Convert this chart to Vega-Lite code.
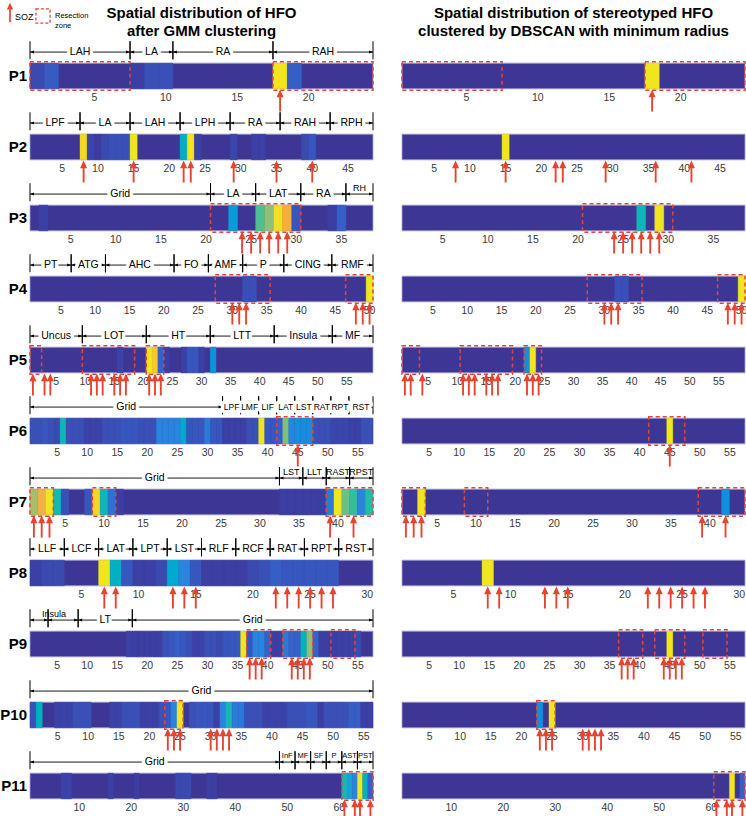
{
"$schema":"https://vega.github.io/schema/vega-lite/v6.json",
"padding":{"left":0,"top":2,"right":1,"bottom":0},
"background":"white",
"data":{"values":[
{"t":"s","p":"P1","m":"G","a":0.5,"b":24.5},{"t":"s","p":"P1","m":"D","a":0.5,"b":24.5},
{"t":"s","p":"P2","m":"G","a":0.5,"b":48.5},{"t":"s","p":"P2","m":"D","a":0.5,"b":48.5},
{"t":"s","p":"P3","m":"G","a":0.5,"b":38.5},{"t":"s","p":"P3","m":"D","a":0.5,"b":38.5},
{"t":"s","p":"P4","m":"G","a":0.5,"b":50.5},{"t":"s","p":"P4","m":"D","a":0.5,"b":50.5},
{"t":"s","p":"P5","m":"G","a":0.5,"b":59.5},{"t":"s","p":"P5","m":"D","a":0.5,"b":59.5},
{"t":"s","p":"P6","m":"G","a":0.5,"b":57.5},{"t":"s","p":"P6","m":"D","a":0.5,"b":57.5},
{"t":"s","p":"P7","m":"G","a":0.5,"b":44.5},{"t":"s","p":"P7","m":"D","a":0.5,"b":44.5},
{"t":"s","p":"P8","m":"G","a":0.5,"b":30.5},{"t":"s","p":"P8","m":"D","a":0.5,"b":30.5},
{"t":"s","p":"P9","m":"G","a":0.5,"b":57.5},{"t":"s","p":"P9","m":"D","a":0.5,"b":57.5},
{"t":"s","p":"P10","m":"G","a":0.5,"b":56.5},{"t":"s","p":"P10","m":"D","a":0.5,"b":56.5},
{"t":"s","p":"P11","m":"G","a":0.5,"b":66.5},{"t":"s","p":"P11","m":"D","a":0.5,"b":66.5},
{"t":"k","p":"P1","m":"G","k":[5,10,15,20]},{"t":"k","p":"P1","m":"D","k":[5,10,15,20]},
{"t":"k","p":"P2","m":"G","k":[5,10,15,20,25,30,35,40,45]},{"t":"k","p":"P2","m":"D","k":[5,10,15,20,25,30,35,40,45]},
{"t":"k","p":"P3","m":"G","k":[5,10,15,20,25,30,35]},{"t":"k","p":"P3","m":"D","k":[5,10,15,20,25,30,35]},
{"t":"k","p":"P4","m":"G","k":[5,10,15,20,25,30,35,40,45,50]},{"t":"k","p":"P4","m":"D","k":[5,10,15,20,25,30,35,40,45,50]},
{"t":"k","p":"P5","m":"G","k":[5,10,15,20,25,30,35,40,45,50,55]},{"t":"k","p":"P5","m":"D","k":[5,10,15,20,25,30,35,40,45,50,55]},
{"t":"k","p":"P6","m":"G","k":[5,10,15,20,25,30,35,40,45,50,55]},{"t":"k","p":"P6","m":"D","k":[5,10,15,20,25,30,35,40,45,50,55]},
{"t":"k","p":"P7","m":"G","k":[5,10,15,20,25,30,35,40]},{"t":"k","p":"P7","m":"D","k":[5,10,15,20,25,30,35,40]},
{"t":"k","p":"P8","m":"G","k":[5,10,15,20,25,30]},{"t":"k","p":"P8","m":"D","k":[5,10,15,20,25,30]},
{"t":"k","p":"P9","m":"G","k":[5,10,15,20,25,30,35,40,45,50,55]},{"t":"k","p":"P9","m":"D","k":[5,10,15,20,25,30,35,40,45,50,55]},
{"t":"k","p":"P10","m":"G","k":[5,10,15,20,25,30,35,40,45,50,55]},{"t":"k","p":"P10","m":"D","k":[5,10,15,20,25,30,35,40,45,50,55]},
{"t":"k","p":"P11","m":"G","k":[10,20,30,40,50,60]},{"t":"k","p":"P11","m":"D","k":[10,20,30,40,50,60]},

{"t":"c","p":"P1","m":"G","c":1,"v":0.08},{"t":"c","p":"P1","m":"G","c":2,"v":0.13},{"t":"c","p":"P1","m":"G","c":8,"v":0.04},{"t":"c","p":"P1","m":"G","c":9,"v":0.1},{"t":"c","p":"P1","m":"G","c":10,"v":0.1},{"t":"c","p":"P1","m":"G","c":18,"v":1},{"t":"c","p":"P1","m":"G","c":19,"v":0.14},
{"t":"c","p":"P1","m":"D","c":18,"v":1},
{"t":"c","p":"P2","m":"G","c":8,"v":0.93},{"t":"c","p":"P2","m":"G","c":9,"v":0.07},{"t":"c","p":"P2","m":"G","c":10,"v":0.03},{"t":"c","p":"P2","m":"G","c":11,"v":0.08},{"t":"c","p":"P2","m":"G","c":12,"v":0.1},{"t":"c","p":"P2","m":"G","c":13,"v":0.1},{"t":"c","p":"P2","m":"G","c":14,"v":0.1},{"t":"c","p":"P2","m":"G","c":15,"v":1},{"t":"c","p":"P2","m":"G","c":22,"v":0.33},{"t":"c","p":"P2","m":"G","c":23,"v":1},{"t":"c","p":"P2","m":"G","c":24,"v":0.05},{"t":"c","p":"P2","m":"G","c":29,"v":0.07},{"t":"c","p":"P2","m":"G","c":32,"v":0.05},{"t":"c","p":"P2","m":"G","c":33,"v":0.05},{"t":"c","p":"P2","m":"G","c":39,"v":0.08},{"t":"c","p":"P2","m":"G","c":40,"v":0.12},
{"t":"c","p":"P2","m":"D","c":15,"v":1},
{"t":"c","p":"P3","m":"G","c":2,"v":0.05},{"t":"c","p":"P3","m":"G","c":23,"v":0.28},{"t":"c","p":"P3","m":"G","c":26,"v":0.45},{"t":"c","p":"P3","m":"G","c":27,"v":0.52},{"t":"c","p":"P3","m":"G","c":28,"v":0.97},{"t":"c","p":"P3","m":"G","c":29,"v":0.8},{"t":"c","p":"P3","m":"G","c":30,"v":0.12},{"t":"c","p":"P3","m":"G","c":34,"v":0.04},{"t":"c","p":"P3","m":"G","c":35,"v":0.14},
{"t":"c","p":"P3","m":"D","c":27,"v":0.36},{"t":"c","p":"P3","m":"D","c":29,"v":1},
{"t":"c","p":"P4","m":"G","c":32,"v":0.1},{"t":"c","p":"P4","m":"G","c":33,"v":0.1},{"t":"c","p":"P4","m":"G","c":50,"v":1},
{"t":"c","p":"P4","m":"D","c":32,"v":0.1},{"t":"c","p":"P4","m":"D","c":33,"v":0.1},{"t":"c","p":"P4","m":"D","c":50,"v":1},
{"t":"c","p":"P5","m":"G","c":16,"v":0.06},{"t":"c","p":"P5","m":"G","c":21,"v":1},{"t":"c","p":"P5","m":"G","c":22,"v":0.88},{"t":"c","p":"P5","m":"G","c":23,"v":0.15},{"t":"c","p":"P5","m":"G","c":24,"v":0.04},{"t":"c","p":"P5","m":"G","c":27,"v":0.05},{"t":"c","p":"P5","m":"G","c":28,"v":0.12},{"t":"c","p":"P5","m":"G","c":29,"v":0.12},{"t":"c","p":"P5","m":"G","c":30,"v":0.05},{"t":"c","p":"P5","m":"G","c":32,"v":0.27},
{"t":"c","p":"P5","m":"D","c":22,"v":0.25},{"t":"c","p":"P5","m":"D","c":23,"v":1},
{"t":"c","p":"P6","m":"G","c":1,"v":0.1},{"t":"c","p":"P6","m":"G","c":2,"v":0.1},{"t":"c","p":"P6","m":"G","c":3,"v":0.12},{"t":"c","p":"P6","m":"G","c":4,"v":0.1},{"t":"c","p":"P6","m":"G","c":5,"v":0.08},{"t":"c","p":"P6","m":"G","c":6,"v":0.36},{"t":"c","p":"P6","m":"G","c":7,"v":0.1},{"t":"c","p":"P6","m":"G","c":8,"v":0.1},{"t":"c","p":"P6","m":"G","c":9,"v":0.1},{"t":"c","p":"P6","m":"G","c":10,"v":0.06},{"t":"c","p":"P6","m":"G","c":11,"v":0.06},{"t":"c","p":"P6","m":"G","c":12,"v":0.06},{"t":"c","p":"P6","m":"G","c":13,"v":0.1},{"t":"c","p":"P6","m":"G","c":14,"v":0.1},{"t":"c","p":"P6","m":"G","c":15,"v":0.1},{"t":"c","p":"P6","m":"G","c":16,"v":0.12},{"t":"c","p":"P6","m":"G","c":17,"v":0.12},{"t":"c","p":"P6","m":"G","c":18,"v":0.12},{"t":"c","p":"P6","m":"G","c":19,"v":0.1},{"t":"c","p":"P6","m":"G","c":20,"v":0.1},{"t":"c","p":"P6","m":"G","c":21,"v":0.1},{"t":"c","p":"P6","m":"G","c":22,"v":0.22},{"t":"c","p":"P6","m":"G","c":23,"v":0.22},{"t":"c","p":"P6","m":"G","c":24,"v":0.22},{"t":"c","p":"P6","m":"G","c":25,"v":0.22},{"t":"c","p":"P6","m":"G","c":26,"v":0.32},{"t":"c","p":"P6","m":"G","c":27,"v":0.12},{"t":"c","p":"P6","m":"G","c":28,"v":0.12},{"t":"c","p":"P6","m":"G","c":29,"v":0.12},{"t":"c","p":"P6","m":"G","c":30,"v":0.2},{"t":"c","p":"P6","m":"G","c":31,"v":0.12},{"t":"c","p":"P6","m":"G","c":32,"v":0.12},{"t":"c","p":"P6","m":"G","c":33,"v":0.05},{"t":"c","p":"P6","m":"G","c":34,"v":0.05},{"t":"c","p":"P6","m":"G","c":35,"v":0.05},{"t":"c","p":"P6","m":"G","c":36,"v":0.05},{"t":"c","p":"P6","m":"G","c":37,"v":0.1},{"t":"c","p":"P6","m":"G","c":38,"v":0.1},{"t":"c","p":"P6","m":"G","c":39,"v":1},{"t":"c","p":"P6","m":"G","c":40,"v":0.12},{"t":"c","p":"P6","m":"G","c":41,"v":0.12},{"t":"c","p":"P6","m":"G","c":42,"v":0.14},{"t":"c","p":"P6","m":"G","c":43,"v":0.5},{"t":"c","p":"P6","m":"G","c":44,"v":0.22},{"t":"c","p":"P6","m":"G","c":45,"v":0.24},{"t":"c","p":"P6","m":"G","c":46,"v":0.24},{"t":"c","p":"P6","m":"G","c":47,"v":0.24},{"t":"c","p":"P6","m":"G","c":48,"v":0.1},{"t":"c","p":"P6","m":"G","c":49,"v":0.1},{"t":"c","p":"P6","m":"G","c":50,"v":0.1},{"t":"c","p":"P6","m":"G","c":51,"v":0.07},{"t":"c","p":"P6","m":"G","c":52,"v":0.07},{"t":"c","p":"P6","m":"G","c":53,"v":0.07},{"t":"c","p":"P6","m":"G","c":54,"v":0.05},{"t":"c","p":"P6","m":"G","c":55,"v":0.05},{"t":"c","p":"P6","m":"G","c":56,"v":0.1},{"t":"c","p":"P6","m":"G","c":57,"v":0.1},
{"t":"c","p":"P6","m":"D","c":45,"v":1},
{"t":"c","p":"P7","m":"G","c":1,"v":0.58},{"t":"c","p":"P7","m":"G","c":2,"v":0.78},{"t":"c","p":"P7","m":"G","c":3,"v":1},{"t":"c","p":"P7","m":"G","c":4,"v":0.38},{"t":"c","p":"P7","m":"G","c":5,"v":0.1},{"t":"c","p":"P7","m":"G","c":8,"v":0.12},{"t":"c","p":"P7","m":"G","c":9,"v":0.93},{"t":"c","p":"P7","m":"G","c":10,"v":0.36},{"t":"c","p":"P7","m":"G","c":11,"v":0.18},{"t":"c","p":"P7","m":"G","c":12,"v":0.04},{"t":"c","p":"P7","m":"G","c":33,"v":0.04},{"t":"c","p":"P7","m":"G","c":34,"v":0.04},{"t":"c","p":"P7","m":"G","c":35,"v":0.04},{"t":"c","p":"P7","m":"G","c":36,"v":0.04},{"t":"c","p":"P7","m":"G","c":37,"v":0.04},{"t":"c","p":"P7","m":"G","c":38,"v":0.04},{"t":"c","p":"P7","m":"G","c":39,"v":0.2},{"t":"c","p":"P7","m":"G","c":40,"v":1},{"t":"c","p":"P7","m":"G","c":41,"v":0.48},{"t":"c","p":"P7","m":"G","c":42,"v":0.42},{"t":"c","p":"P7","m":"G","c":43,"v":0.22},{"t":"c","p":"P7","m":"G","c":44,"v":0.4},
{"t":"c","p":"P7","m":"D","c":3,"v":1},{"t":"c","p":"P7","m":"D","c":42,"v":0.25},
{"t":"c","p":"P8","m":"G","c":1,"v":0.05},{"t":"c","p":"P8","m":"G","c":2,"v":0.08},{"t":"c","p":"P8","m":"G","c":3,"v":0.08},{"t":"c","p":"P8","m":"G","c":7,"v":1},{"t":"c","p":"P8","m":"G","c":8,"v":0.35},{"t":"c","p":"P8","m":"G","c":9,"v":0.12},{"t":"c","p":"P8","m":"G","c":10,"v":0.05},{"t":"c","p":"P8","m":"G","c":11,"v":0.05},{"t":"c","p":"P8","m":"G","c":12,"v":0.08},{"t":"c","p":"P8","m":"G","c":13,"v":0.32},{"t":"c","p":"P8","m":"G","c":14,"v":0.22},{"t":"c","p":"P8","m":"G","c":15,"v":0.12},{"t":"c","p":"P8","m":"G","c":16,"v":0.04},{"t":"c","p":"P8","m":"G","c":17,"v":0.04},{"t":"c","p":"P8","m":"G","c":18,"v":0.04},{"t":"c","p":"P8","m":"G","c":19,"v":0.04},{"t":"c","p":"P8","m":"G","c":20,"v":0.08},{"t":"c","p":"P8","m":"G","c":21,"v":0.1},{"t":"c","p":"P8","m":"G","c":22,"v":0.14},{"t":"c","p":"P8","m":"G","c":23,"v":0.12},{"t":"c","p":"P8","m":"G","c":24,"v":0.12},{"t":"c","p":"P8","m":"G","c":25,"v":0.12},{"t":"c","p":"P8","m":"G","c":26,"v":0.12},{"t":"c","p":"P8","m":"G","c":27,"v":0.12},
{"t":"c","p":"P8","m":"D","c":8,"v":1},
{"t":"c","p":"P9","m":"G","c":17,"v":0.06},{"t":"c","p":"P9","m":"G","c":18,"v":0.04},{"t":"c","p":"P9","m":"G","c":19,"v":0.04},{"t":"c","p":"P9","m":"G","c":20,"v":0.04},{"t":"c","p":"P9","m":"G","c":21,"v":0.04},{"t":"c","p":"P9","m":"G","c":22,"v":0.04},{"t":"c","p":"P9","m":"G","c":23,"v":0.1},{"t":"c","p":"P9","m":"G","c":24,"v":0.12},{"t":"c","p":"P9","m":"G","c":25,"v":0.14},{"t":"c","p":"P9","m":"G","c":26,"v":0.12},{"t":"c","p":"P9","m":"G","c":27,"v":0.1},{"t":"c","p":"P9","m":"G","c":28,"v":0.06},{"t":"c","p":"P9","m":"G","c":29,"v":0.06},{"t":"c","p":"P9","m":"G","c":30,"v":0.1},{"t":"c","p":"P9","m":"G","c":31,"v":0.1},{"t":"c","p":"P9","m":"G","c":32,"v":0.08},{"t":"c","p":"P9","m":"G","c":33,"v":0.12},{"t":"c","p":"P9","m":"G","c":34,"v":0.12},{"t":"c","p":"P9","m":"G","c":35,"v":0.12},{"t":"c","p":"P9","m":"G","c":36,"v":1},{"t":"c","p":"P9","m":"G","c":37,"v":0.12},{"t":"c","p":"P9","m":"G","c":38,"v":0.22},{"t":"c","p":"P9","m":"G","c":39,"v":0.22},{"t":"c","p":"P9","m":"G","c":40,"v":0.15},{"t":"c","p":"P9","m":"G","c":41,"v":0.04},{"t":"c","p":"P9","m":"G","c":42,"v":0.04},{"t":"c","p":"P9","m":"G","c":43,"v":0.2},{"t":"c","p":"P9","m":"G","c":44,"v":0.15},{"t":"c","p":"P9","m":"G","c":45,"v":0.15},{"t":"c","p":"P9","m":"G","c":46,"v":0.35},{"t":"c","p":"P9","m":"G","c":47,"v":0.52},{"t":"c","p":"P9","m":"G","c":48,"v":0.15},{"t":"c","p":"P9","m":"G","c":49,"v":0.04},{"t":"c","p":"P9","m":"G","c":50,"v":0.04},{"t":"c","p":"P9","m":"G","c":51,"v":0.04},{"t":"c","p":"P9","m":"G","c":52,"v":0.05},{"t":"c","p":"P9","m":"G","c":53,"v":0.05},{"t":"c","p":"P9","m":"G","c":54,"v":0.05},{"t":"c","p":"P9","m":"G","c":55,"v":0.08},
{"t":"c","p":"P9","m":"D","c":45,"v":1},
{"t":"c","p":"P10","m":"G","c":1,"v":0.1},{"t":"c","p":"P10","m":"G","c":2,"v":0.35},{"t":"c","p":"P10","m":"G","c":5,"v":0.06},{"t":"c","p":"P10","m":"G","c":6,"v":0.06},{"t":"c","p":"P10","m":"G","c":7,"v":0.06},{"t":"c","p":"P10","m":"G","c":8,"v":0.1},{"t":"c","p":"P10","m":"G","c":9,"v":0.1},{"t":"c","p":"P10","m":"G","c":10,"v":0.1},{"t":"c","p":"P10","m":"G","c":14,"v":0.06},{"t":"c","p":"P10","m":"G","c":15,"v":0.06},{"t":"c","p":"P10","m":"G","c":16,"v":0.1},{"t":"c","p":"P10","m":"G","c":17,"v":0.1},{"t":"c","p":"P10","m":"G","c":18,"v":0.1},{"t":"c","p":"P10","m":"G","c":19,"v":0.05},{"t":"c","p":"P10","m":"G","c":20,"v":0.05},{"t":"c","p":"P10","m":"G","c":21,"v":0.05},{"t":"c","p":"P10","m":"G","c":22,"v":0.1},{"t":"c","p":"P10","m":"G","c":23,"v":0.12},{"t":"c","p":"P10","m":"G","c":24,"v":0.22},{"t":"c","p":"P10","m":"G","c":25,"v":1},{"t":"c","p":"P10","m":"G","c":27,"v":0.1},{"t":"c","p":"P10","m":"G","c":28,"v":0.12},{"t":"c","p":"P10","m":"G","c":29,"v":0.12},{"t":"c","p":"P10","m":"G","c":30,"v":0.12},{"t":"c","p":"P10","m":"G","c":31,"v":0.05},{"t":"c","p":"P10","m":"G","c":32,"v":0.22},{"t":"c","p":"P10","m":"G","c":33,"v":0.38},{"t":"c","p":"P10","m":"G","c":34,"v":0.2},{"t":"c","p":"P10","m":"G","c":35,"v":0.2},{"t":"c","p":"P10","m":"G","c":36,"v":0.1},{"t":"c","p":"P10","m":"G","c":37,"v":0.1},{"t":"c","p":"P10","m":"G","c":38,"v":0.1},{"t":"c","p":"P10","m":"G","c":39,"v":0.06},{"t":"c","p":"P10","m":"G","c":40,"v":0.06},{"t":"c","p":"P10","m":"G","c":41,"v":0.06},{"t":"c","p":"P10","m":"G","c":42,"v":0.06},{"t":"c","p":"P10","m":"G","c":43,"v":0.1},{"t":"c","p":"P10","m":"G","c":44,"v":0.1},{"t":"c","p":"P10","m":"G","c":45,"v":0.1},{"t":"c","p":"P10","m":"G","c":46,"v":0.12},{"t":"c","p":"P10","m":"G","c":47,"v":0.12},{"t":"c","p":"P10","m":"G","c":48,"v":0.04},{"t":"c","p":"P10","m":"G","c":49,"v":0.1},{"t":"c","p":"P10","m":"G","c":50,"v":0.1},{"t":"c","p":"P10","m":"G","c":51,"v":0.1},{"t":"c","p":"P10","m":"G","c":52,"v":0.1},{"t":"c","p":"P10","m":"G","c":53,"v":0.14},{"t":"c","p":"P10","m":"G","c":54,"v":0.14},{"t":"c","p":"P10","m":"G","c":55,"v":0.05},{"t":"c","p":"P10","m":"G","c":56,"v":0.05},
{"t":"c","p":"P10","m":"D","c":23,"v":0.25},{"t":"c","p":"P10","m":"D","c":25,"v":1},
{"t":"c","p":"P11","m":"G","c":7,"v":0.06},{"t":"c","p":"P11","m":"G","c":8,"v":0.06},{"t":"c","p":"P11","m":"G","c":16,"v":0.05},{"t":"c","p":"P11","m":"G","c":21,"v":0.04},{"t":"c","p":"P11","m":"G","c":29,"v":0.08},{"t":"c","p":"P11","m":"G","c":30,"v":0.08},{"t":"c","p":"P11","m":"G","c":31,"v":0.08},{"t":"c","p":"P11","m":"G","c":35,"v":0.04},{"t":"c","p":"P11","m":"G","c":36,"v":0.04},{"t":"c","p":"P11","m":"G","c":61,"v":0.38},{"t":"c","p":"P11","m":"G","c":62,"v":0.3},{"t":"c","p":"P11","m":"G","c":63,"v":0.22},{"t":"c","p":"P11","m":"G","c":64,"v":1},{"t":"c","p":"P11","m":"G","c":65,"v":0.35},{"t":"c","p":"P11","m":"G","c":66,"v":0.15},
{"t":"c","p":"P11","m":"D","c":64,"v":1},{"t":"c","p":"P11","m":"D","c":66,"v":0.15},

{"t":"b","p":"P1","m":"G","a":0.5,"b":7.5},{"t":"b","p":"P1","m":"G","a":17.5,"b":24.5},{"t":"b","p":"P1","m":"D","a":0.5,"b":7.5},{"t":"b","p":"P1","m":"D","a":17.5,"b":24.5},
{"t":"b","p":"P3","m":"G","a":20.5,"b":30.5},{"t":"b","p":"P3","m":"D","a":20.5,"b":30.5},
{"t":"b","p":"P4","m":"G","a":27.5,"b":35.5},{"t":"b","p":"P4","m":"G","a":46.5,"b":50.5},{"t":"b","p":"P4","m":"D","a":27.5,"b":35.5},{"t":"b","p":"P4","m":"D","a":46.5,"b":50.5},
{"t":"b","p":"P5","m":"G","a":0.5,"b":2.5},{"t":"b","p":"P5","m":"G","a":9.5,"b":18.5},{"t":"b","p":"P5","m":"G","a":20.5,"b":23.5},{"t":"b","p":"P5","m":"D","a":0.5,"b":3.5},{"t":"b","p":"P5","m":"D","a":10.5,"b":19.5},{"t":"b","p":"P5","m":"D","a":21.5,"b":24.5},
{"t":"b","p":"P6","m":"G","a":41.5,"b":47.5},{"t":"b","p":"P6","m":"D","a":41.5,"b":47.5},
{"t":"b","p":"P7","m":"G","a":0.5,"b":3.5},{"t":"b","p":"P7","m":"G","a":8.5,"b":11.5},{"t":"b","p":"P7","m":"G","a":38.5,"b":44.5},{"t":"b","p":"P7","m":"D","a":0.5,"b":3.5},{"t":"b","p":"P7","m":"D","a":8.5,"b":11.5},{"t":"b","p":"P7","m":"D","a":38.5,"b":44.5},
{"t":"b","p":"P9","m":"G","a":36.5,"b":40.5},{"t":"b","p":"P9","m":"G","a":42.5,"b":47.5},{"t":"b","p":"P9","m":"G","a":50.5,"b":54.5},{"t":"b","p":"P9","m":"D","a":36.5,"b":40.5},{"t":"b","p":"P9","m":"D","a":42.5,"b":47.5},{"t":"b","p":"P9","m":"D","a":50.5,"b":54.5},
{"t":"b","p":"P10","m":"G","a":22.5,"b":25.5},{"t":"b","p":"P10","m":"D","a":22.5,"b":25.5},
{"t":"b","p":"P11","m":"G","a":60.5,"b":66.5},{"t":"b","p":"P11","m":"D","a":60.5,"b":66.5},

{"t":"z","p":"P1","m":"G","c":18},{"t":"z","p":"P1","m":"D","c":18},
{"t":"z","p":"P2","m":"G","c":8},{"t":"z","p":"P2","m":"G","c":15},{"t":"z","p":"P2","m":"G","c":22},{"t":"z","p":"P2","m":"G","c":23},{"t":"z","p":"P2","m":"G","c":29},{"t":"z","p":"P2","m":"G","c":35},{"t":"z","p":"P2","m":"G","c":40},
{"t":"z","p":"P2","m":"D","c":8},{"t":"z","p":"P2","m":"D","c":15},{"t":"z","p":"P2","m":"D","c":22},{"t":"z","p":"P2","m":"D","c":23},{"t":"z","p":"P2","m":"D","c":29},{"t":"z","p":"P2","m":"D","c":36},{"t":"z","p":"P2","m":"D","c":41},
{"t":"z","p":"P3","m":"G","c":24},{"t":"z","p":"P3","m":"G","c":25},{"t":"z","p":"P3","m":"G","c":26},{"t":"z","p":"P3","m":"G","c":27},{"t":"z","p":"P3","m":"G","c":28},{"t":"z","p":"P3","m":"G","c":29},
{"t":"z","p":"P3","m":"D","c":24},{"t":"z","p":"P3","m":"D","c":25},{"t":"z","p":"P3","m":"D","c":26},{"t":"z","p":"P3","m":"D","c":27},{"t":"z","p":"P3","m":"D","c":28},{"t":"z","p":"P3","m":"D","c":29},
{"t":"z","p":"P4","m":"G","c":30},{"t":"z","p":"P4","m":"G","c":31},{"t":"z","p":"P4","m":"G","c":32},{"t":"z","p":"P4","m":"G","c":48},{"t":"z","p":"P4","m":"G","c":49},{"t":"z","p":"P4","m":"G","c":50},
{"t":"z","p":"P4","m":"D","c":30},{"t":"z","p":"P4","m":"D","c":31},{"t":"z","p":"P4","m":"D","c":32},{"t":"z","p":"P4","m":"D","c":48},{"t":"z","p":"P4","m":"D","c":49},{"t":"z","p":"P4","m":"D","c":50},
{"t":"z","p":"P5","m":"G","c":1},{"t":"z","p":"P5","m":"G","c":3},{"t":"z","p":"P5","m":"G","c":4},{"t":"z","p":"P5","m":"G","c":11},{"t":"z","p":"P5","m":"G","c":12},{"t":"z","p":"P5","m":"G","c":13},{"t":"z","p":"P5","m":"G","c":15},{"t":"z","p":"P5","m":"G","c":16},{"t":"z","p":"P5","m":"G","c":17},{"t":"z","p":"P5","m":"G","c":21},{"t":"z","p":"P5","m":"G","c":22},{"t":"z","p":"P5","m":"G","c":23},
{"t":"z","p":"P5","m":"D","c":1},{"t":"z","p":"P5","m":"D","c":2},{"t":"z","p":"P5","m":"D","c":4},{"t":"z","p":"P5","m":"D","c":11},{"t":"z","p":"P5","m":"D","c":12},{"t":"z","p":"P5","m":"D","c":13},{"t":"z","p":"P5","m":"D","c":15},{"t":"z","p":"P5","m":"D","c":16},{"t":"z","p":"P5","m":"D","c":17},{"t":"z","p":"P5","m":"D","c":22},{"t":"z","p":"P5","m":"D","c":23},{"t":"z","p":"P5","m":"D","c":24},
{"t":"z","p":"P6","m":"G","c":45},{"t":"z","p":"P6","m":"D","c":45},
{"t":"z","p":"P7","m":"G","c":1},{"t":"z","p":"P7","m":"G","c":2},{"t":"z","p":"P7","m":"G","c":3},{"t":"z","p":"P7","m":"G","c":39},{"t":"z","p":"P7","m":"G","c":42},
{"t":"z","p":"P7","m":"D","c":1},{"t":"z","p":"P7","m":"D","c":2},{"t":"z","p":"P7","m":"D","c":3},{"t":"z","p":"P7","m":"D","c":39},{"t":"z","p":"P7","m":"D","c":42},
{"t":"z","p":"P8","m":"G","c":7},{"t":"z","p":"P8","m":"G","c":8},{"t":"z","p":"P8","m":"G","c":13},{"t":"z","p":"P8","m":"G","c":14},{"t":"z","p":"P8","m":"G","c":15},{"t":"z","p":"P8","m":"G","c":22},{"t":"z","p":"P8","m":"G","c":23},{"t":"z","p":"P8","m":"G","c":24},{"t":"z","p":"P8","m":"G","c":25},{"t":"z","p":"P8","m":"G","c":26},{"t":"z","p":"P8","m":"G","c":27},
{"t":"z","p":"P8","m":"D","c":8},{"t":"z","p":"P8","m":"D","c":9},{"t":"z","p":"P8","m":"D","c":13},{"t":"z","p":"P8","m":"D","c":14},{"t":"z","p":"P8","m":"D","c":15},{"t":"z","p":"P8","m":"D","c":22},{"t":"z","p":"P8","m":"D","c":23},{"t":"z","p":"P8","m":"D","c":24},{"t":"z","p":"P8","m":"D","c":25},{"t":"z","p":"P8","m":"D","c":26},{"t":"z","p":"P8","m":"D","c":27},
{"t":"z","p":"P9","m":"G","c":37},{"t":"z","p":"P9","m":"G","c":38},{"t":"z","p":"P9","m":"G","c":39},{"t":"z","p":"P9","m":"G","c":44},{"t":"z","p":"P9","m":"G","c":45},{"t":"z","p":"P9","m":"G","c":46},{"t":"z","p":"P9","m":"G","c":47},
{"t":"z","p":"P9","m":"D","c":37},{"t":"z","p":"P9","m":"D","c":38},{"t":"z","p":"P9","m":"D","c":39},{"t":"z","p":"P9","m":"D","c":44},{"t":"z","p":"P9","m":"D","c":45},{"t":"z","p":"P9","m":"D","c":46},{"t":"z","p":"P9","m":"D","c":47},
{"t":"z","p":"P10","m":"G","c":23},{"t":"z","p":"P10","m":"G","c":24},{"t":"z","p":"P10","m":"G","c":25},{"t":"z","p":"P10","m":"G","c":30},{"t":"z","p":"P10","m":"G","c":31},{"t":"z","p":"P10","m":"G","c":32},{"t":"z","p":"P10","m":"G","c":33},
{"t":"z","p":"P10","m":"D","c":23},{"t":"z","p":"P10","m":"D","c":24},{"t":"z","p":"P10","m":"D","c":25},{"t":"z","p":"P10","m":"D","c":30},{"t":"z","p":"P10","m":"D","c":31},{"t":"z","p":"P10","m":"D","c":32},{"t":"z","p":"P10","m":"D","c":33},
{"t":"z","p":"P11","m":"G","c":61},{"t":"z","p":"P11","m":"G","c":63},{"t":"z","p":"P11","m":"G","c":64},{"t":"z","p":"P11","m":"G","c":66},
{"t":"z","p":"P11","m":"D","c":61},{"t":"z","p":"P11","m":"D","c":63},{"t":"z","p":"P11","m":"D","c":64},{"t":"z","p":"P11","m":"D","c":66},

{"t":"r","p":"P1","m":"G","a":0.5,"b":7.5,"l":"LAH"},{"t":"r","p":"P1","m":"G","a":7.5,"b":10.5,"l":"LA"},{"t":"r","p":"P1","m":"G","a":10.5,"b":17.5,"l":"RA"},{"t":"r","p":"P1","m":"G","a":17.5,"b":24.5,"l":"RAH"},
{"t":"r","p":"P2","m":"G","a":0.5,"b":7.5,"l":"LPF"},{"t":"r","p":"P2","m":"G","a":7.5,"b":14.5,"l":"LA"},{"t":"r","p":"P2","m":"G","a":14.5,"b":21.5,"l":"LAH"},{"t":"r","p":"P2","m":"G","a":21.5,"b":28.5,"l":"LPH"},{"t":"r","p":"P2","m":"G","a":28.5,"b":35.5,"l":"RA"},{"t":"r","p":"P2","m":"G","a":35.5,"b":42.5,"l":"RAH"},{"t":"r","p":"P2","m":"G","a":42.5,"b":48.5,"l":"RPH"},
{"t":"r","p":"P3","m":"G","a":0.5,"b":20.5,"l":"Grid"},{"t":"r","p":"P3","m":"G","a":20.5,"b":25.5,"l":"LA"},{"t":"r","p":"P3","m":"G","a":25.5,"b":30.5,"l":"LAT"},{"t":"r","p":"P3","m":"G","a":30.5,"b":35.5,"l":"RA"},{"t":"r","p":"P3","m":"G","a":35.5,"b":38.5,"l":""},{"t":"q","p":"P3","m":"G","a":35.5,"b":38.5,"l":"RH"},
{"t":"r","p":"P4","m":"G","a":0.5,"b":6.5,"l":"PT"},{"t":"r","p":"P4","m":"G","a":6.5,"b":11.5,"l":"ATG"},{"t":"r","p":"P4","m":"G","a":11.5,"b":21.5,"l":"AHC"},{"t":"r","p":"P4","m":"G","a":21.5,"b":26.5,"l":"FO"},{"t":"r","p":"P4","m":"G","a":26.5,"b":31.5,"l":"AMF"},{"t":"r","p":"P4","m":"G","a":31.5,"b":37.5,"l":"P"},{"t":"r","p":"P4","m":"G","a":37.5,"b":44.5,"l":"CING"},{"t":"r","p":"P4","m":"G","a":44.5,"b":50.5,"l":"RMF"},
{"t":"r","p":"P5","m":"G","a":0.5,"b":9.5,"l":"Uncus"},{"t":"r","p":"P5","m":"G","a":9.5,"b":20.5,"l":"LOT"},{"t":"r","p":"P5","m":"G","a":20.5,"b":31.5,"l":"HT"},{"t":"r","p":"P5","m":"G","a":31.5,"b":42.5,"l":"LTT"},{"t":"r","p":"P5","m":"G","a":42.5,"b":52.5,"l":"Insula"},{"t":"r","p":"P5","m":"G","a":52.5,"b":59.5,"l":"MF"},
{"t":"r","p":"P6","m":"G","a":0.5,"b":32.5,"l":"Grid"},{"t":"r","p":"P6","m":"G","a":32.5,"b":35.5,"l":"LPF"},{"t":"r","p":"P6","m":"G","a":35.5,"b":38.5,"l":"LMF"},{"t":"r","p":"P6","m":"G","a":38.5,"b":41.5,"l":"LIF"},{"t":"r","p":"P6","m":"G","a":41.5,"b":44.5,"l":"LAT"},{"t":"r","p":"P6","m":"G","a":44.5,"b":47.5,"l":"LST"},{"t":"r","p":"P6","m":"G","a":47.5,"b":50.5,"l":"RAT"},{"t":"r","p":"P6","m":"G","a":50.5,"b":53.5,"l":"RPT"},{"t":"r","p":"P6","m":"G","a":53.5,"b":57.5,"l":"RST"},
{"t":"r","p":"P7","m":"G","a":0.5,"b":32.5,"l":"Grid"},{"t":"r","p":"P7","m":"G","a":32.5,"b":35.5,"l":""},{"t":"r","p":"P7","m":"G","a":35.5,"b":38.5,"l":""},{"t":"r","p":"P7","m":"G","a":38.5,"b":41.5,"l":""},{"t":"r","p":"P7","m":"G","a":41.5,"b":44.5,"l":""},
{"t":"q","p":"P7","m":"G","a":32.5,"b":35.5,"l":"LST"},{"t":"q","p":"P7","m":"G","a":35.5,"b":38.5,"l":"LLT"},{"t":"q","p":"P7","m":"G","a":38.5,"b":41.5,"l":"RAST"},{"t":"q","p":"P7","m":"G","a":41.5,"b":44.5,"l":"RPST"},
{"t":"r","p":"P8","m":"G","a":0.5,"b":3.5,"l":"LLF"},{"t":"r","p":"P8","m":"G","a":3.5,"b":6.5,"l":"LCF"},{"t":"r","p":"P8","m":"G","a":6.5,"b":9.5,"l":"LAT"},{"t":"r","p":"P8","m":"G","a":9.5,"b":12.5,"l":"LPT"},{"t":"r","p":"P8","m":"G","a":12.5,"b":15.5,"l":"LST"},{"t":"r","p":"P8","m":"G","a":15.5,"b":18.5,"l":"RLF"},{"t":"r","p":"P8","m":"G","a":18.5,"b":21.5,"l":"RCF"},{"t":"r","p":"P8","m":"G","a":21.5,"b":24.5,"l":"RAT"},{"t":"r","p":"P8","m":"G","a":24.5,"b":27.5,"l":"RPT"},{"t":"r","p":"P8","m":"G","a":27.5,"b":30.5,"l":"RST"},
{"t":"r","p":"P9","m":"G","a":0.5,"b":3.5,"l":""},{"t":"r","p":"P9","m":"G","a":3.5,"b":8.5,"l":""},{"t":"r","p":"P9","m":"G","a":8.5,"b":17.5,"l":"LT"},{"t":"r","p":"P9","m":"G","a":17.5,"b":57.5,"l":"Grid"},{"t":"q","p":"P9","m":"G","a":0.5,"b":8.5,"l":"Insula"},
{"t":"r","p":"P10","m":"G","a":0.5,"b":56.5,"l":"Grid"},
{"t":"r","p":"P11","m":"G","a":0.5,"b":48.5,"l":"Grid"},{"t":"r","p":"P11","m":"G","a":48.5,"b":51.5,"l":""},{"t":"r","p":"P11","m":"G","a":51.5,"b":54.5,"l":""},{"t":"r","p":"P11","m":"G","a":54.5,"b":57.5,"l":""},{"t":"r","p":"P11","m":"G","a":57.5,"b":60.5,"l":""},{"t":"r","p":"P11","m":"G","a":60.5,"b":63.5,"l":""},{"t":"r","p":"P11","m":"G","a":63.5,"b":66.5,"l":""},
{"t":"q","p":"P11","m":"G","a":48.5,"b":51.5,"l":"InF"},{"t":"q","p":"P11","m":"G","a":51.5,"b":54.5,"l":"MF"},{"t":"q","p":"P11","m":"G","a":54.5,"b":57.5,"l":"SF"},{"t":"q","p":"P11","m":"G","a":57.5,"b":60.5,"l":"P"},{"t":"q","p":"P11","m":"G","a":60.5,"b":63.5,"l":"AST"},{"t":"q","p":"P11","m":"G","a":63.5,"b":66.5,"l":"PST"}
]},
"facet":{
 "row":{"field":"p","type":"nominal","title":null,"sort":["P1","P2","P3","P4","P5","P6","P7","P8","P9","P10","P11"],
  "header":{"labels":false}},
 "column":{"field":"m","type":"nominal","title":null,"sort":["G","D"],
  "header":{"labelExpr":"datum.value=='G' ? ['Spatial distribution of HFO','after GMM clustering'] : ['Spatial distribution of stereotyped HFO','clustered by DBSCAN with minimum radius']","labelFontSize":15,"labelFontWeight":"bold","labelFont":"Liberation Sans","labelPadding":2,"labelLineHeight":18,"labelColor":"black"}}
},
"spacing":{"row":0,"column":29},
"bounds":"flush",
"resolve":{"scale":{"x":"independent"}},
"spec":{
 "width":343,"height":70.5,
 "layer":[
  {"transform":[{"filter":"datum.t=='s'"}],
   "mark":{"type":"rect","fill":"#3d3694","stroke":"#a6a3d3","strokeWidth":0.8},
   "encoding":{"x":{"field":"a","type":"quantitative","scale":{"zero":false,"nice":false},"axis":null},"x2":{"field":"b"},
    "y":{"datum":0,"type":"quantitative","scale":{"domain":[-0.88,1.86],"nice":false,"zero":false},"axis":null},"y2":{"datum":1}}},
  {"transform":[{"filter":"datum.t=='s' && datum.m=='G'"}],
   "mark":{"type":"text","fontSize":15,"fontWeight":"bold","font":"Liberation Sans","fill":"black","align":"right","baseline":"middle","dx":-3},
   "encoding":{"x":{"datum":0.5,"type":"quantitative"},"y":{"datum":0.5},"text":{"field":"p"}}},
  {"transform":[{"filter":"datum.t=='c'"},{"calculate":"datum.c-0.5","as":"c0"},{"calculate":"datum.c+0.5","as":"c1"}],
   "mark":{"type":"rect","strokeWidth":0.4},
   "encoding":{"x":{"field":"c0","type":"quantitative"},"x2":{"field":"c1"},"y":{"datum":0},"y2":{"datum":1},
    "fill":{"field":"v","type":"quantitative","legend":null,"scale":{"domain":[0,0.05,0.1,0.15,0.22,0.3,0.36,0.45,0.52,0.7,0.8,0.9,1],"range":["#3d3694","#3b40a4","#3a50b7","#3662c7","#2a84dd","#17a1d6","#11b5b9","#4cc08f","#8fbf78","#d6b959","#f8ae3f","#f4d12b","#f0e51e"]}},
    "stroke":{"field":"v","type":"quantitative","legend":null,"scale":{"domain":[0,0.05,0.1,0.15,0.22,0.3,0.36,0.45,0.52,0.7,0.8,0.9,1],"range":["#3d3694","#3b40a4","#3a50b7","#3662c7","#2a84dd","#17a1d6","#11b5b9","#4cc08f","#8fbf78","#d6b959","#f8ae3f","#f4d12b","#f0e51e"]}}}},
  {"transform":[{"filter":"datum.t=='b'"}],
   "mark":{"type":"rect","fill":"transparent","stroke":"#e2463a","strokeWidth":1.5,"strokeDash":[4,3]},
   "encoding":{"x":{"field":"a","type":"quantitative"},"x2":{"field":"b"},"y":{"datum":-0.05},"y2":{"datum":1.05},
    "opacity":{"datum":"Resection zone","type":"nominal","scale":{"range":[1]},
     "legend":{"title":null,"orient":"none","legendX":5,"legendY":-33,"symbolType":"square","symbolSize":200,"symbolFillColor":"transparent","symbolStrokeColor":"#e2463a","symbolStrokeWidth":1.3,"symbolDash":[3,2],"labelFontSize":7.5,"labelLineHeight":8.5,"labelOffset":4,"labelExpr":"split(datum.label,' ')","labelFont":"Liberation Sans","labelColor":"black"}}}},
  {"transform":[{"filter":"datum.t=='k'"},{"flatten":["k"]}],
   "mark":{"type":"text","fontSize":10.5,"font":"Liberation Sans","color":"#3a3a3a","baseline":"middle"},
   "encoding":{"x":{"field":"k","type":"quantitative"},"y":{"datum":-0.35},"text":{"field":"k","type":"quantitative"}}},
  {"transform":[{"filter":"datum.t=='z'"}],
   "mark":{"type":"point","filled":true,"fill":"#e8432f","strokeWidth":0,"size":484,"opacity":1},
   "encoding":{"x":{"field":"c","type":"quantitative"},"y":{"datum":-0.45},
    "shape":{"datum":"SOZ","type":"nominal","scale":{"range":["M-0.085,1L0.085,1L0.085,-0.3L0.32,-0.3L0,-1L-0.32,-0.3L-0.085,-0.3Z"]},
     "legend":{"title":null,"orient":"none","legendX":-30,"legendY":-38.5,"symbolSize":380,"symbolFillColor":"#e8432f","symbolStrokeWidth":0,"labelFontSize":9,"labelFont":"Liberation Sans","labelColor":"black","labelOffset":-5,"labelBaseline":"top"}}}},
  {"transform":[{"filter":"datum.t=='r'"}],
   "mark":{"type":"rule","stroke":"black","strokeWidth":1},
   "encoding":{"x":{"field":"a","type":"quantitative"},"y":{"datum":1.15},"y2":{"datum":1.85}}},
  {"transform":[{"filter":"datum.t=='r'"}],
   "mark":{"type":"rule","stroke":"black","strokeWidth":1},
   "encoding":{"x":{"field":"b","type":"quantitative"},"y":{"datum":1.15},"y2":{"datum":1.85}}},
  {"transform":[{"filter":"datum.t=='r'"}],
   "mark":{"type":"rule","stroke":"black","strokeWidth":0.9},
   "encoding":{"x":{"field":"a","type":"quantitative"},"x2":{"field":"b"},"y":{"datum":1.43}}},
  {"transform":[{"filter":"datum.t=='r'"}],
   "mark":{"type":"point","shape":"M0,0L1,-0.38L1,0.38Z","filled":true,"fill":"black","size":64,"strokeWidth":0,"opacity":1},
   "encoding":{"x":{"field":"a","type":"quantitative"},"y":{"datum":1.43}}},
  {"transform":[{"filter":"datum.t=='r'"}],
   "mark":{"type":"point","shape":"M0,0L-1,-0.38L-1,0.38Z","filled":true,"fill":"black","size":64,"strokeWidth":0,"opacity":1},
   "encoding":{"x":{"field":"b","type":"quantitative"},"y":{"datum":1.43}}},
  {"transform":[{"filter":"datum.t=='r'"},{"joinaggregate":[{"op":"max","field":"b","as":"n"}],"groupby":["p"]},{"filter":"datum.l!=''"},{"calculate":"(datum.a+datum.b)/2","as":"mx"}],
   "mark":{"type":"text","font":"Liberation Sans","fill":"white","stroke":"white","strokeWidth":7,"strokeJoin":"round","baseline":"middle"},
   "encoding":{"x":{"field":"mx","type":"quantitative"},"y":{"datum":1.43},"text":{"field":"l"},
    "size":{"condition":{"test":"(datum.b-datum.a)/datum.n*343 < 25","value":8.5},"value":10.5}}},
  {"transform":[{"filter":"datum.t=='r'"},{"joinaggregate":[{"op":"max","field":"b","as":"n"}],"groupby":["p"]},{"filter":"datum.l!=''"},{"calculate":"(datum.a+datum.b)/2","as":"mx"}],
   "mark":{"type":"text","font":"Liberation Sans","fill":"black","baseline":"middle"},
   "encoding":{"x":{"field":"mx","type":"quantitative"},"y":{"datum":1.43},"text":{"field":"l"},
    "size":{"condition":{"test":"(datum.b-datum.a)/datum.n*343 < 25","value":8.5},"value":10.5}}},
  {"transform":[{"filter":"datum.t=='q'"},{"joinaggregate":[{"op":"max","field":"b","as":"n"}],"groupby":["p"]},{"calculate":"(datum.a+datum.b)/2","as":"mx"}],
   "mark":{"type":"text","font":"Liberation Sans","fill":"black","baseline":"middle"},
   "encoding":{"x":{"field":"mx","type":"quantitative"},"y":{"datum":1.66},"text":{"field":"l"},
    "size":{"condition":{"test":"(datum.b-datum.a)/datum.n*343 < 20","value":7.5},"value":9}}}
 ]
},
"config":{"view":{"stroke":null},"font":"Liberation Sans"}
}
